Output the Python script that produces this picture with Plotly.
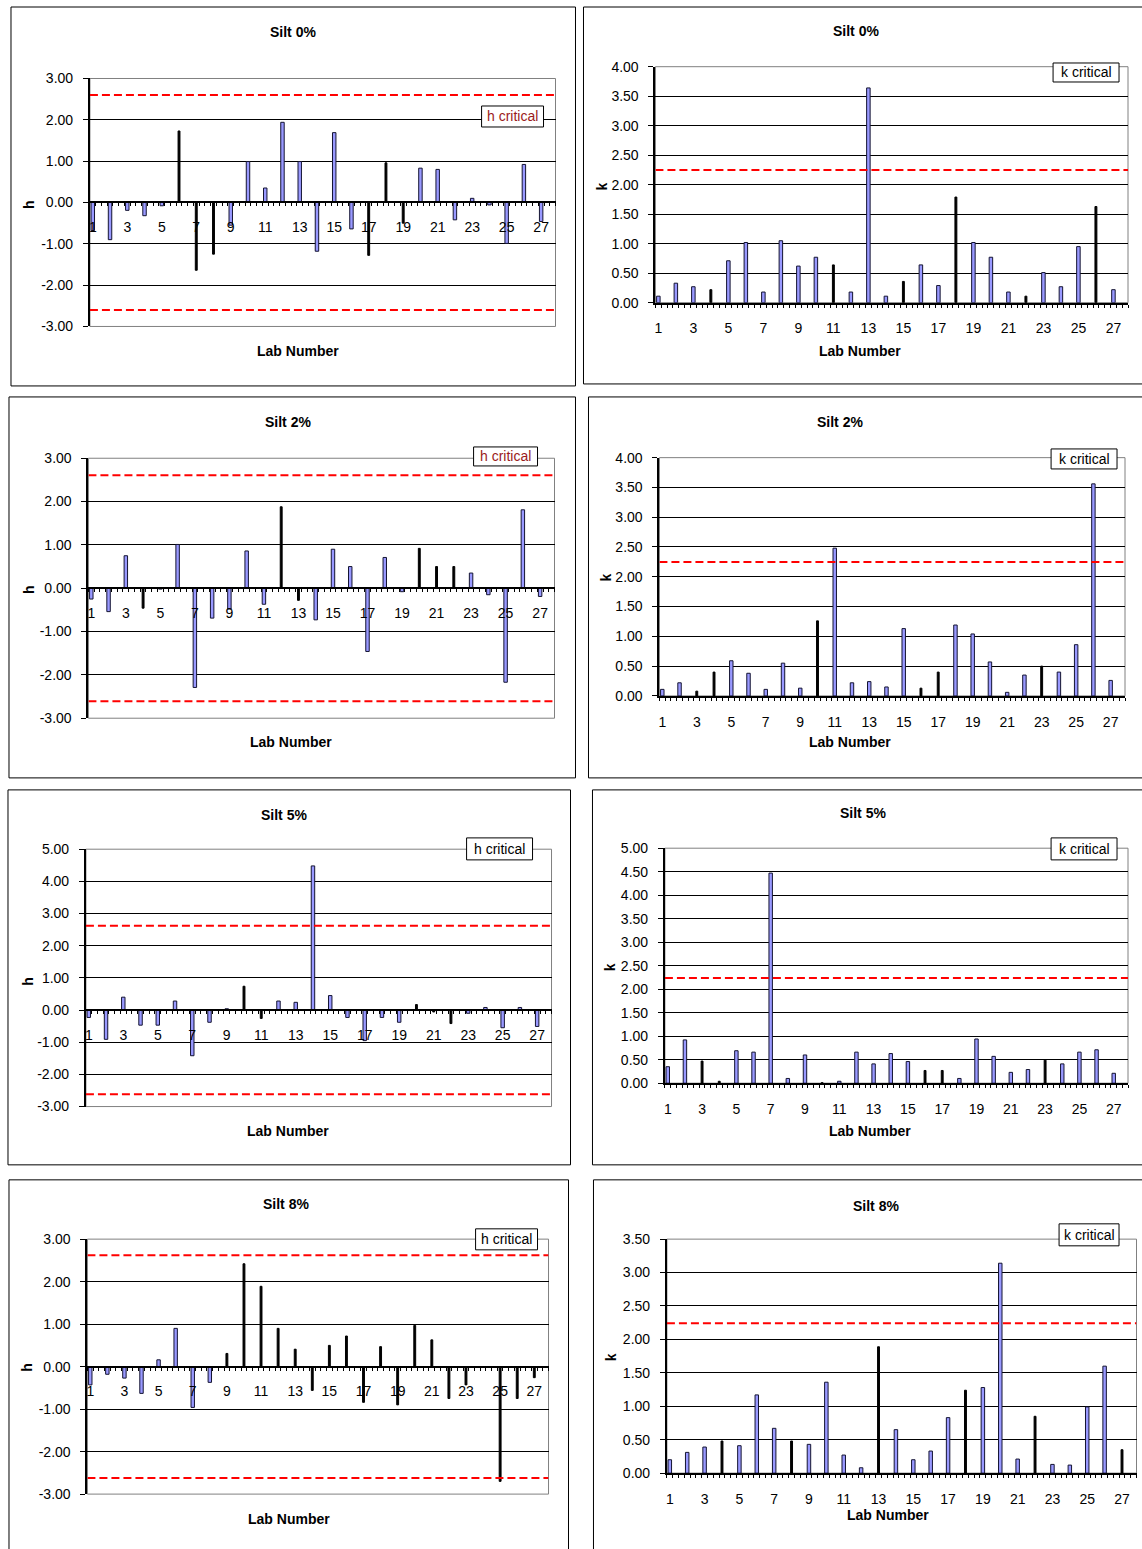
import plotly.graph_objects as go

W, H = 1142, 1549
LABS = list(range(1, 28))

# ---------------- data ----------------
H_SILT0 = [-0.68, -0.90, -0.19, -0.32, -0.08, 1.73, -1.64, -1.25, -0.55, 0.99,
           0.35, 1.94, 0.99, -1.18, 1.69, -0.64, -1.28, 0.96, -0.50, 0.83,
           0.80, -0.42, 0.10, -0.06, -0.99, 0.92, -0.46]
K_SILT0 = [0.11, 0.33, 0.27, 0.22, 0.71, 1.02, 0.18, 1.05, 0.62, 0.77,
           0.64, 0.18, 3.64, 0.11, 0.36, 0.64, 0.29, 1.79, 1.02, 0.77,
           0.18, 0.11, 0.51, 0.27, 0.95, 1.63, 0.22]
H_SILT2 = [-0.25, -0.54, 0.75, -0.46, -0.02, 1.01, -2.29, -0.69, -0.48, 0.86,
           -0.37, 1.88, -0.28, -0.73, 0.90, 0.50, -1.46, 0.71, -0.08, 0.92,
           0.50, 0.50, 0.35, -0.15, -2.17, 1.81, -0.19]
K_SILT2 = [0.11, 0.22, 0.08, 0.40, 0.59, 0.38, 0.11, 0.55, 0.13, 1.26,
           2.48, 0.22, 0.24, 0.15, 1.13, 0.13, 0.40, 1.19, 1.04, 0.57,
           0.06, 0.35, 0.50, 0.40, 0.86, 3.56, 0.26]
H_SILT5 = [-0.23, -0.91, 0.40, -0.47, -0.47, 0.28, -1.42, -0.38, 0.04, 0.74,
           -0.26, 0.28, 0.24, 4.48, 0.45, -0.23, -0.95, -0.23, -0.38, 0.17,
           -0.06, -0.42, -0.10, 0.08, -0.55, 0.08, -0.51]
K_SILT5 = [0.35, 0.92, 0.47, 0.04, 0.69, 0.66, 4.47, 0.10, 0.60, 0.01,
           0.04, 0.66, 0.41, 0.63, 0.46, 0.27, 0.27, 0.10, 0.94, 0.57,
           0.23, 0.29, 0.49, 0.41, 0.66, 0.71, 0.21]
H_SILT8 = [-0.43, -0.18, -0.27, -0.63, 0.16, 0.90, -0.96, -0.37, 0.31, 2.42,
           1.89, 0.90, 0.41, -0.56, 0.50, 0.72, -0.84, 0.47, -0.90, 0.97,
           0.63, -0.75, -0.43, 0.00, -2.70, -0.75, -0.26]
K_SILT8 = [0.20, 0.31, 0.39, 0.48, 0.41, 1.17, 0.67, 0.48, 0.43, 1.36,
           0.27, 0.08, 1.89, 0.65, 0.20, 0.33, 0.83, 1.24, 1.28, 3.14,
           0.21, 0.85, 0.13, 0.12, 0.99, 1.60, 0.35]

H_CRITICAL = [2.60, 2.61, 2.62, 2.62]
K_CRITICAL = [2.25, 2.25, 2.24, 2.24]

TITLES = ["Silt 0%", "Silt 0%", "Silt 2%", "Silt 2%",
          "Silt 5%", "Silt 5%", "Silt 8%", "Silt 8%"]
X_TITLE = "Lab Number"
X_TICK_LABELS = [str(v) for v in range(1, 28, 2)]

# ---------------- styling ----------------
FONT = "Liberation Sans, Arial, sans-serif"
BLUE = "#9999FF"
EDGE = "#141432"
RED = "#FF0000"

# bars that render as plain dark lines in the reference
DARK = [
    [6, 7, 8, 17, 18, 19],
    [4, 11, 15, 18, 22, 26],
    [4, 12, 13, 20, 21, 22],
    [3, 4, 10, 16, 17, 23],
    [10, 11, 20, 21, 22],
    [3, 4, 10, 16, 17, 23],
    list(range(9, 28)),
    [4, 8, 13, 18, 22, 27],
]

# panel geometry in (target) pixels
PANELS = [
    dict(vals=H_SILT0, kind="h", crit=H_CRITICAL[0], yr=(-3, 3), dt=1.0,
         plot=(89, 78.5, 555, 326.5), frame=(10, 7, 575, 386),
         title=(292, 32), xt=(297, 351), yt=(28, 204),
         leg=(481, 106, 543, 127), legc="#9B1B1B"),
    dict(vals=K_SILT0, kind="k", crit=K_CRITICAL[0], yr=(0, 4), dt=0.5,
         plot=(655, 66.7, 1128, 302.7), frame=(583, 7, 1160, 384),
         title=(856, 31), xt=(860, 351), yt=(602, 186),
         leg=(1053, 63, 1119, 82), legc="black"),
    dict(vals=H_SILT2, kind="h", crit=H_CRITICAL[1], yr=(-3, 3), dt=1.0,
         plot=(87.5, 458.3, 554, 718.3), frame=(8, 397, 575, 778),
         title=(287, 422), xt=(290, 742), yt=(28, 589),
         leg=(473, 447, 537, 466), legc="#9B1B1B"),
    dict(vals=K_SILT2, kind="k", crit=K_CRITICAL[1], yr=(0, 4), dt=0.5,
         plot=(659, 457.7, 1125, 696), frame=(588, 397, 1160, 778),
         title=(840, 422), xt=(850, 742), yt=(605, 577),
         leg=(1051, 449, 1117, 469), legc="black"),
    dict(vals=H_SILT5, kind="h", crit=H_CRITICAL[2], yr=(-3, 5), dt=1.0,
         plot=(85, 849.3, 551, 1106.7), frame=(7, 790, 570, 1165),
         title=(283, 815), xt=(287, 1131), yt=(27, 981),
         leg=(466, 838, 532, 860), legc="black"),
    dict(vals=K_SILT5, kind="k", crit=K_CRITICAL[2], yr=(0, 5), dt=0.5,
         plot=(664.5, 848.3, 1128, 1083.3), frame=(592, 790, 1160, 1165),
         title=(863, 813), xt=(870, 1131), yt=(609, 967),
         leg=(1051, 838, 1117, 860), legc="black"),
    dict(vals=H_SILT8, kind="h", crit=H_CRITICAL[3], yr=(-3, 3), dt=1.0,
         plot=(86.5, 1239.3, 548, 1494.3), frame=(8, 1180, 568, 1570),
         title=(285, 1204), xt=(288, 1519), yt=(26, 1367),
         leg=(475, 1229, 537, 1250), legc="black"),
    dict(vals=K_SILT8, kind="k", crit=K_CRITICAL[3], yr=(0, 3.5), dt=0.5,
         plot=(666.5, 1239.3, 1136.5, 1473.3), frame=(593, 1180, 1160, 1570),
         title=(876, 1206), xt=(888, 1515), yt=(610, 1357),
         leg=(1059, 1224, 1119, 1246), legc="black"),
]

X_MIN, X_MAX = 1 - 1 / 6, 27 + 5 / 6

# the capture shifts the page down ~8 px and squeezes it slightly;
# compensate so that the photographed positions match the target pixels
Y_SHIFT, Y_SCALE = 8.0, 0.9898


def fx(px):
    return px / W


def fy(py):
    return 1 - ((py - Y_SHIFT) / Y_SCALE) / H


def y_ticks(lo, hi, step):
    n = int(round((hi - lo) / step))
    vals = [lo + k * step for k in range(n + 1)]
    return vals, [f"{v:.2f}" for v in vals]


fig = go.Figure()
shapes, annos = [], []
layout = {}
tickfont = dict(family=FONT, size=14, color="black")

for i, p in enumerate(PANELS, start=1):
    sfx = "" if i == 1 else str(i)
    xname, yname = f"x{sfx}", f"y{sfx}"
    x0, y0, x1, y1 = p["plot"]
    xdom = [fx(x0), fx(x1)]
    ydom = [fy(y1), fy(y0)]
    ymin, ymax = p["yr"]

    xa = dict(domain=xdom, range=[X_MIN, X_MAX], tickmode="array",
              tickvals=list(range(1, 28, 2)), ticktext=X_TICK_LABELS,
              ticks="", showgrid=False, showline=True, linecolor="black",
              linewidth=2, zeroline=False, tickfont=tickfont,
              ticklabelstandoff=12,
              minor=dict(tickmode="linear", tick0=X_MIN, dtick=1 / 3,
                         ticks="outside", ticklen=3, tickwidth=1,
                         tickcolor="black", showgrid=False),
              fixedrange=True)
    if p["kind"] == "h":
        pos = ydom[0] + (ydom[1] - ydom[0]) * (0 - ymin) / (ymax - ymin)
        xa.update(anchor="free", position=pos)
    else:
        xa.update(anchor=yname)
    tv, tt = y_ticks(ymin, ymax, p["dt"])
    ya = dict(domain=ydom, range=[ymin, ymax], anchor=xname,
              tickmode="array", tickvals=tv, ticktext=tt,
              showgrid=True, gridcolor="black", gridwidth=1,
              showline=True, linecolor="black", linewidth=2,
              ticks="outside", ticklen=5, tickcolor="black", tickwidth=1,
              zeroline=False, tickfont=tickfont, ticklabelstandoff=7,
              fixedrange=True)
    layout[f"xaxis{sfx}"] = xa
    layout[f"yaxis{sfx}"] = ya

    dark = set(DARK[i - 1])
    colors = ["black" if lab in dark else BLUE for lab in LABS]
    lines = ["black" if lab in dark else EDGE for lab in LABS]
    widths = [0.11 if lab in dark else 0.2 for lab in LABS]
    fig.add_trace(go.Bar(x=LABS, y=p["vals"], xaxis=xname, yaxis=yname,
                         width=widths,
                         marker=dict(color=colors,
                                     line=dict(color=lines, width=1)),
                         showlegend=False, hoverinfo="x+y"))
    c = p["crit"]
    if p["kind"] == "h":
        lx = [X_MIN, X_MAX, None, X_MIN, X_MAX]
        ly = [c, c, None, -c, -c]
    else:
        lx = [X_MIN, X_MAX]
        ly = [c, c]
    fig.add_trace(go.Scatter(x=lx, y=ly, xaxis=xname, yaxis=yname,
                             mode="lines", showlegend=False,
                             line=dict(color=RED, width=2, dash="8px,4px"),
                             hoverinfo="skip"))

    # plot-area border (gray)
    shapes.append(dict(type="rect", xref=f"{xname} domain",
                       yref=f"{yname} domain", x0=0, x1=1, y0=0, y1=1,
                       line=dict(color="#808080", width=1), layer="below"))
    # chart-area frame
    fx0, fy0, fx1, fy1 = p["frame"]
    shapes.append(dict(type="rect", xref="paper", yref="paper",
                       x0=fx(fx0), x1=fx(fx1), y0=fy(fy1), y1=fy(fy0),
                       line=dict(color="black", width=1)))
    # legend box
    lx0, ly0, lx1, ly1 = p["leg"]
    shapes.append(dict(type="rect", xref="paper", yref="paper",
                       x0=fx(lx0), x1=fx(lx1), y0=fy(ly1), y1=fy(ly0),
                       fillcolor="white", line=dict(color="black", width=1)))
    annos.append(dict(x=fx((lx0 + lx1) / 2), y=fy((ly0 + ly1) / 2),
                      xref="paper", yref="paper", showarrow=False,
                      text=f"{p['kind']} critical",
                      font=dict(family=FONT, size=14, color=p["legc"]),
                      xanchor="center", yanchor="middle"))
    # titles
    bold = dict(family=FONT, size=14, color="black", weight="bold")
    annos.append(dict(x=fx(p["title"][0]), y=fy(p["title"][1]),
                      xref="paper", yref="paper", showarrow=False,
                      text=f"<b>{TITLES[i - 1]}</b>", font=bold,
                      xanchor="center", yanchor="middle"))
    annos.append(dict(x=fx(p["xt"][0]), y=fy(p["xt"][1]),
                      xref="paper", yref="paper", showarrow=False,
                      text=f"<b>{X_TITLE}</b>", font=bold,
                      xanchor="center", yanchor="middle"))
    annos.append(dict(x=fx(p["yt"][0]), y=fy(p["yt"][1]),
                      xref="paper", yref="paper", showarrow=False,
                      text=f"<b>{p['kind']}</b>", font=bold, textangle=-90,
                      xanchor="center", yanchor="middle"))

fig.update_layout(width=W, height=H, autosize=False,
                  margin=dict(l=0, r=0, t=0, b=0),
                  paper_bgcolor="white", plot_bgcolor="white",
                  shapes=shapes, annotations=annos, showlegend=False,
                  **layout)

fig.write_html("out.html")
